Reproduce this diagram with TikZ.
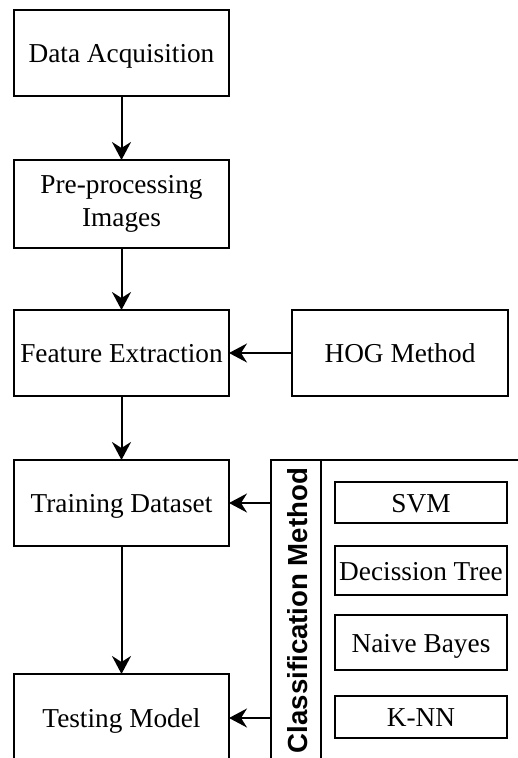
\documentclass[tikz,border=0pt]{standalone}
\usepackage{fontspec}
\setmainfont{Liberation Serif}
\newfontfamily\headfont{Liberation Sans}
\usetikzlibrary{arrows.meta}

\tikzset{
  box/.style={draw, line width=2pt, rectangle, inner sep=0pt, outer sep=0pt,
    align=center, font=\fontsize{27.3}{33.5}\selectfont},
  oneline/.style={text height=19.5pt, text depth=0pt},
  stagebox/.style={box, oneline, minimum width=215pt, minimum height=86pt},
  algbox/.style={box, oneline, minimum width=172pt},
  arr/.style={line width=2pt, -{Stealth[length=18pt, width=19pt, inset=6pt]}},
}

\begin{document}
\begin{tikzpicture}[x=1pt, y=-1pt]
  \useasboundingbox (0,0) rectangle (518,758);
  \clip (0,0) rectangle (518,758);

  % main pipeline
  \node[stagebox] (da) at (121.5,53) {Data Acquisition};
  \node[box, minimum width=215pt, minimum height=88pt] (pp) at (121.5,204)
       {Pre-processing\\Images};
  \node[stagebox] (fe) at (121.5,353) {Feature Extraction};
  \node[stagebox, minimum width=216pt] (hog) at (400,353) {HOG Method};
  \node[stagebox] (td) at (121.5,503) {Training Dataset};
  \node[stagebox, minimum height=88pt] (tm) at (121.5,718) {Testing Model};

  % classification method container with vertical header
  \node[draw, line width=2pt, rectangle, inner sep=0pt, outer sep=0pt,
        minimum width=289pt, minimum height=300pt] (cm) at (415.5,610) {};
  \coordinate (hdtop) at (321,460);
  \coordinate (hdbot) at (321,760);
  \draw[line width=2pt] (hdtop) -- (hdbot);
  \node[rotate=90, font=\headfont\bfseries\fontsize{27.6}{33}\selectfont,
        inner sep=0pt] (cmtitle) at (298,610.5) {Classification Method};

  % classifiers
  \node[algbox, minimum height=41pt] (svm) at (421,502.5) {SVM};
  \node[algbox, minimum height=49pt] (dt) at (421,570.5) {Decission Tree};
  \node[algbox, minimum height=55pt] (nb) at (421,642.5) {Naive Bayes};
  \node[algbox, minimum height=42pt] (knn) at (421,717) {K-NN};

  % connectors
  \draw[arr] (da) -- (pp);
  \draw[arr] (pp) -- (fe);
  \draw[arr] (hog) -- (fe);
  \draw[arr] (fe) -- (td);
  \draw[arr] (td) -- (tm);
  \draw[arr] (cm.west |- td.east) -- (td.east);
  \draw[arr] (cm.west |- tm.east) -- (tm.east);
\end{tikzpicture}
\end{document}
